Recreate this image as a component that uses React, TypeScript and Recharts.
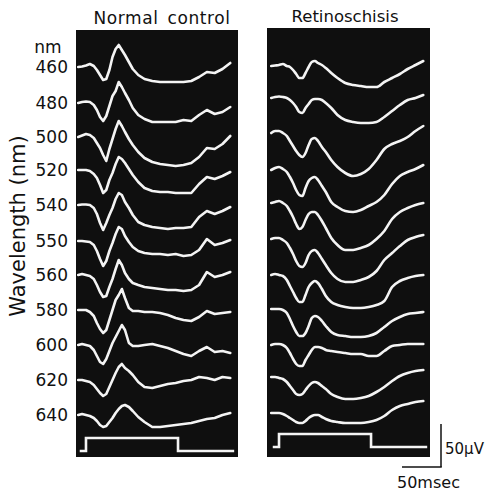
import React from 'react';
import { LineChart, Line, XAxis, YAxis, CartesianGrid } from 'recharts';

// Wavelength labels (nm)
const WAVELENGTHS = ['460', '480', '500', '520', '540', '550', '560', '580', '600', '620', '640'];

// Time (ms) relative to stimulus onset
const TIME_MS = [-10, -5, 0, 5, 10, 14, 18, 22, 26, 30, 34, 38, 42, 46, 50, 55, 60, 67, 75, 85, 95, 105, 115, 125, 135, 145, 155, 165, 175, 185];

// Normal control ERG deflections (amplitude units, up = positive)
const normal460 = [0, 0.5, 1.5, 3, 1, -3, -8, -13, -12, -3, 10, 18, 22, 17, 12, 5, -2, -8, -12, -14, -15, -15, -15, -15, -14, -10, -5, -6, -2, 4];
const normal480 = [0, 1, 1.5, 1, -2, -7, -14, -18, -13, -3, 7, 12, 21, 16, 10, 3, -5, -12, -16, -19, -19, -19, -19, -17, -18, -12, -7, -11, -9, -4];
const normal500 = [0, 1.5, 3, 2, -1, -6, -11, -18, -24, -12, -2, 8, 16, 11, 5, -2, -8, -15, -21, -25, -27, -28, -29, -28, -26, -20, -11, -12, -7, 1];
const normal520 = [0, 0, 0, -1, -4, -8, -15, -23, -20, -10, -3, 6, 13, 11, 7, 1, -5, -12, -18, -21, -22, -22, -23, -23, -23, -14, -7, -9, -6, -2];
const normal540 = [0, 0.5, 0.5, 0, -3, -9, -18, -25, -18, -10, -3, 6, 12, 10, 3, -3, -10, -17, -20, -22, -23, -24, -23, -23, -22, -12, -6, -9, -6, -2];
const normal550 = [0, 0, -0.5, -1, -4, -10, -18, -25, -20, -10, -2, 7, 14, 12, 5, -1, -6, -10, -12, -13, -13, -14, -13, -15, -14, -9, 2, -4, -2, 1];
const normal560 = [0, 1, 0, -1, -4, -10, -17, -22, -21, -12, -4, 6, 15, 10, 2, -4, -8, -10, -12, -13, -14, -15, -15, -16, -15, -10, 3, -2, 0, 3];
const normal580 = [0, 0, 0, -2, -6, -13, -19, -23, -20, -10, 0, 10, 15, 21, 12, 2, -1, -1, -2, -2, -3, -5, -8, -10, -11, -7, -1, -4, -3, -2];
const normal600 = [0, 1, 0, -1, -5, -11, -17, -19, -14, -6, 2, 8, 14, 20, 15, 2, -1, -1, 0, 1, -1, -3, -6, -9, -11, -6, -2, -7, -6, -8];
const normal620 = [0, 0, -1, -2, -5, -9, -13, -16, -14, -7, 0, 7, 13, 16, 12, 9, 5, -2, -7, -8, -6, -4, -3, -1, 0, 3, 2, 0, 3, 2];
const normal640 = [0, 1, 0, -1, -3, -6, -10, -12, -11, -7, -3, 2, 6, 9, 10, 8, 4, -2, -7, -12, -12, -11, -10, -9, -8, -6, -4, -3, 0, 2];

// Retinoschisis ERG deflections
const schisis460 = [0, 0.5, 1, 2, 0, -1, -4, -8, -12, -12, -7, -1, 4, 5, 3, 1, -2, -7, -12, -17, -19, -20, -21, -21, -16, -12, -8, -3, 1, 5];
const schisis480 = [0, 1, 1.5, 1, 0, -2, -5, -9, -14, -15, -10, -6, -2, -1, -1, -2, -5, -10, -17, -22, -24, -25, -25, -24, -19, -13, -7, -2, 0, 3];
const schisis500 = [0, 2, 2, 0, -3, -8, -13, -18, -22, -24, -20, -12, -6, -5, -8, -14, -19, -27, -34, -40, -43, -41, -36, -27, -16, -11, -8, -4, 2, 7];
const schisis520 = [0, 2, 3, 1, -2, -7, -13, -20, -25, -26, -18, -11, -8, -7, -10, -16, -22, -32, -37, -41, -42, -40, -36, -32, -25, -14, -6, -2, 1, 5];
const schisis540 = [0, 1, 2, 0, -3, -8, -14, -21, -26, -24, -17, -11, -9, -9, -12, -18, -25, -35, -42, -47, -47, -45, -42, -36, -28, -16, -9, -5, -2, 0];
const schisis550 = [0, 1, 1, -1, -4, -9, -15, -22, -27, -28, -24, -16, -12, -11, -14, -20, -26, -34, -40, -43, -43, -41, -38, -32, -21, -14, -7, -1, 2, 4];
const schisis560 = [0, 1, 0, -1, -5, -11, -17, -23, -27, -27, -20, -12, -8, -6, -8, -14, -21, -27, -30, -32, -33, -33, -32, -30, -26, -12, -6, -3, -1, 0];
const schisis580 = [0, 0, 0, -1, -4, -10, -17, -23, -27, -27, -24, -17, -9, -7, -8, -12, -17, -23, -26, -27, -28, -28, -27, -24, -18, -12, -8, -5, -4, -3];
const schisis600 = [0, 1, 1, 0, -3, -8, -14, -19, -21, -21, -15, -10, -5, -2, -2, -3, -5, -6, -7, -8, -9, -9, -11, -11, -6, -1, 0, 1, 1, 1];
const schisis620 = [0, 0, -1, -2, -5, -9, -13, -17, -18, -17, -13, -9, -6, -5, -6, -9, -12, -17, -20, -22, -22, -21, -19, -15, -10, -4, 1, 4, 6, 7];
const schisis640 = [0, 0, 0, -1, -3, -5, -7, -9, -10, -10, -8, -5, -3, -2, -2, -4, -6, -8, -9, -10, -10, -10, -9, -7, -3, 3, 7, 9, 11, 12];

// Stimulus marker (on/off step)
const STIM_TIME = [-8, 0, 118, 190];
const STIM_AMP = [0, 13, 0, 0];

const NORMAL_TRACES = [normal460, normal480, normal500, normal520, normal540, normal550, normal560, normal580, normal600, normal620, normal640];
const SCHISIS_TRACES = [schisis460, schisis480, schisis500, schisis520, schisis540, schisis550, schisis560, schisis580, schisis600, schisis620, schisis640];

// layout: vertical stacking offsets of each trace inside a panel
const LEFT_OFFSETS = [390, 354, 320, 287, 252, 216, 182, 147, 112, 77, 42];
const RIGHT_OFFSETS = [391, 359, 324, 287, 254, 218, 182, 148, 112, 80, 44];
const NM_TICK = 410;

const FONT = '"DejaVu Sans", sans-serif';
const TRACE = '#f4f4f4';
const PANEL_BG = '#0f0f0f';

const buildTrace = (vals: number[], offset: number) =>
  TIME_MS.map((t, i) => ({ t, v: offset + vals[i] }));
const buildStim = (offset: number) =>
  STIM_TIME.map((t, i) => ({ t, v: offset + STIM_AMP[i] }));

const tickLabel = (value: number) => {
  if (value === NM_TICK) return 'nm';
  const idx = LEFT_OFFSETS.indexOf(value);
  return idx >= 0 ? WAVELENGTHS[idx] : '';
};

const renderTick = (props: any) => {
  const { x, y, payload } = props;
  const label = tickLabel(payload.value);
  const isNm = label === 'nm';
  return (
    <text
      x={isNm ? x - 20 : x}
      y={y}
      dy="0.35em"
      textAnchor={isNm ? 'middle' : 'end'}
      fontFamily={FONT}
      fontSize={17}
      fill="#111"
    >
      {label}
    </text>
  );
};

type PanelProps = {
  left: number;
  width: number;
  marginLeft: number;
  marginRight: number;
  top: number;
  traces: number[][];
  offsets: number[];
  stimOffset: number;
  domainX: [number, number];
  showAxis: boolean;
  curve: 'linear' | 'monotone';
};

function Panel(p: PanelProps) {
  const plotH = 457 - p.top;
  return (
    <div style={{ position: 'absolute', left: p.left, top: 0 }}>
      <LineChart
        width={p.width}
        height={491}
        margin={{ top: p.top, right: p.marginRight, bottom: 34, left: p.marginLeft }}
      >
        <CartesianGrid fill={PANEL_BG} stroke="none" horizontal={false} vertical={false} />
        <XAxis type="number" dataKey="t" domain={p.domainX} hide allowDataOverflow />
        {p.showAxis ? (
          <YAxis
            type="number"
            domain={[0, plotH]}
            width={76}
            ticks={[NM_TICK, ...p.offsets]}
            interval={0}
            axisLine={false}
            tickLine={false}
            tickSize={0}
            tickMargin={8}
            tick={renderTick}
            allowDataOverflow
          />
        ) : (
          <YAxis type="number" domain={[0, plotH]} hide allowDataOverflow />
        )}
        {p.traces.map((vals, i) => (
          <Line
            key={WAVELENGTHS[i]}
            data={buildTrace(vals, p.offsets[i])}
            dataKey="v"
            type={p.curve}
            stroke={TRACE}
            strokeWidth={2.6}
            strokeLinejoin="round"
            strokeLinecap="round"
            dot={false}
            activeDot={false}
            isAnimationActive={false}
          />
        ))}
        <Line
          data={buildStim(p.stimOffset)}
          dataKey="v"
          type="stepAfter"
          stroke={TRACE}
          strokeWidth={2.6}
          dot={false}
          activeDot={false}
          isAnimationActive={false}
        />
      </LineChart>
    </div>
  );
}

export default function App() {
  return (
    <div
      style={{
        position: 'absolute',
        left: 0,
        top: 0,
        width: 490,
        height: 491,
        background: '#fff',
        fontFamily: FONT,
        overflow: 'hidden',
      }}
    >
      <Panel
        left={0}
        width={240}
        marginLeft={0}
        marginRight={2}
        top={30}
        traces={NORMAL_TRACES}
        offsets={LEFT_OFFSETS}
        stimOffset={6}
        domainX={[-12.8, 194.9]}
        showAxis
        curve="linear"
      />
      <Panel
        left={250}
        width={190}
        marginLeft={17}
        marginRight={10}
        top={28}
        traces={SCHISIS_TRACES}
        offsets={RIGHT_OFFSETS}
        stimOffset={10}
        domainX={[-15.4, 193.6]}
        showAxis={false}
        curve="monotone"
      />
      <svg
        width={490}
        height={491}
        style={{ position: 'absolute', left: 0, top: 0, pointerEvents: 'none' }}
      >
        <text x={162} y={24} textAnchor="middle" fontFamily={FONT} fontSize={17} letterSpacing={0.6} wordSpacing={3} fill="#111">
          Normal control
        </text>
        <text x={345} y={22} textAnchor="middle" fontFamily={FONT} fontSize={16.5} fill="#111">
          Retinoschisis
        </text>
        <text
          transform="translate(25,226) rotate(-90)"
          textAnchor="middle"
          fontFamily={FONT}
          fontSize={21}
          fill="#111"
        >
          Wavelength (nm)
        </text>
        <line x1={441} y1={424} x2={441} y2={467} stroke="#111" strokeWidth={1.5} />
        <line x1={402} y1={467} x2={441.75} y2={467} stroke="#111" strokeWidth={1.5} />
        <text x={445} y={454} fontFamily={FONT} fontSize={15} fill="#111">
          50μV
        </text>
        <text x={397} y={488} fontFamily={FONT} fontSize={16} fill="#111">
          50msec
        </text>
      </svg>
    </div>
  );
}
